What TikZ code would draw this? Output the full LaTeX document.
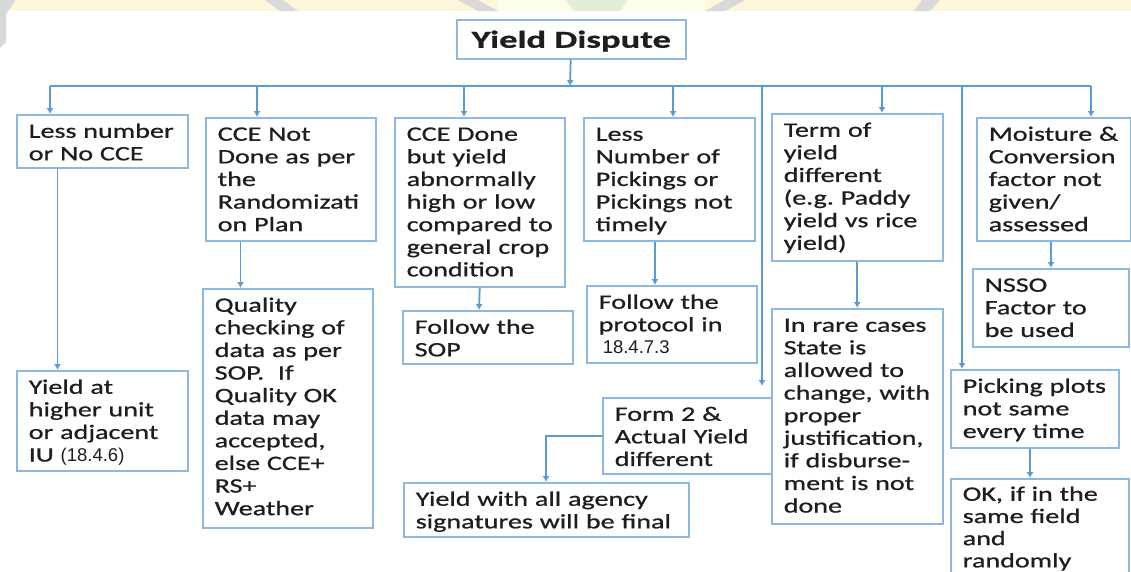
\documentclass[tikz,border=0pt]{standalone}
\usepackage{fontspec}
\setmainfont{Carlito}[FakeStretch=1.37,FakeBold=0.8]
\newfontfamily\numfont{Liberation Sans}
\newfontfamily\headfont{Carlito}[FakeStretch=1.5,FakeBold=0.8]
\usetikzlibrary{arrows.meta}
\definecolor{boxblue}{HTML}{8DB8E2}
\definecolor{linkblue}{HTML}{5B9BD5}
\definecolor{txt}{HTML}{1E1E1E}
\definecolor{bandyellow}{HTML}{FFF7DC}
\definecolor{bandpale}{HTML}{FCFDEB}
\definecolor{bandgreen}{HTML}{E2EFD6}
\definecolor{bandgray}{HTML}{D9D9D9}
\newcommand{\bodysize}{\fontsize{20.5}{22.6}\selectfont}
\newcommand{\num}[1]{{\numfont\fontsize{18.5}{22.6}\selectfont #1}}
\frenchspacing

\begin{document}
\begin{tikzpicture}[x=1pt,y=-1pt]
        \tikzstyle{box}=[draw=boxblue, line width=1.5pt, anchor=north west, inner xsep=12pt, inner ysep=0pt, align=left, text height=23pt, text=txt, font=\bodysize]
        \tikzstyle{arr}=[draw=linkblue, line width=1.8pt, -{Latex[length=6pt,width=7pt]}]

        \useasboundingbox (0,0) rectangle (1131,571);
        \clip (0,0) rectangle (1131,571);
        \fill[white] (0,0) rectangle (1131,571);
        \fill[bandyellow] (0,0) rectangle (1131,11);
        \fill[bandpale] (498,0) rectangle (705,11);
        \fill[bandgreen] (566,0) -- (628,0) -- (620,11) -- (574,11) -- cycle;
        \fill[bandgray] (0,0) -- (16,0) -- (6,14) -- (6,42) -- (0,48) -- cycle;
        \fill[bandgray] (265,0) -- (283,0) -- (298,11) -- (280,11) -- cycle;
        \fill[bandgray] (458,0) -- (478,0) -- (498,11) -- (478,11) -- cycle;
        \fill[bandgray] (725,0) -- (745,0) -- (725,11) -- (705,11) -- cycle;
        \fill[bandgray] (922,0) -- (940,0) -- (930,11) -- (914,11) -- cycle;

        \node[box, text width=205pt, align=center, text height=28pt, text depth=11pt, font=\headfont\bfseries\fontsize{24.4}{28}\selectfont](0) at (456,19){Yield Dispute};

        \node[box, text width=147pt, text depth=30pt](1) at (16,114){Less~number\\or No CCE};
        \node[box, text width=146pt, text depth=100pt](2) at (205,117){CCE Not\\Done~as~per\\the\\Randomizati\\on Plan};
        \node[box, text width=146pt, text depth=146pt](3) at (394,117){CCE Done\\but yield\\abnormally\\high~or~low\\compared~to\\general~crop\\condition};
        \node[box, text width=147pt, text depth=100pt](4) at (583,117){Less\\Number~of\\Pickings~or\\Pickings~not\\timely};
        \node[box, text width=147pt, text depth=124pt](5) at (771,113){Term of\\yield\\different\\(e.g.~Paddy\\yield~vs~rice\\yield)};
        \node[box, text width=130pt, text depth=100pt](6) at (976,117){Moisture~\&\\Conversion\\factor~not\\given/\\assessed};

        \node[box, text width=147pt, text depth=77pt](7) at (16,370){Yield at\\higher~unit\\or~adjacent\\IU \num{(18.4.6)}};
        \node[box, text width=146pt, text depth=216pt](8) at (202,288){Quality\\checking~of\\data~as~per\\SOP.~~If\\Quality~OK\\data~may\\accepted,\\else~CCE+\\RS+\\Weather};
        \node[box, text width=146pt, text depth=30pt](9) at (402,310){Follow~the\\SOP};
        \node[box, text width=146pt, text depth=54pt](10) at (586,285){Follow~the\\protocol~in\\\hspace*{4pt}\num{18.4.7.3}};
        \node[box, text width=147pt, text depth=192pt](11) at (771,308){In~rare~cases\\State is\\allowed~to\\change,~with\\proper\\justification,\\if~disburse-\\ment~is~not\\done};
        \node[box, text width=132pt, text depth=55pt](12) at (972,268){NSSO\\Factor~to\\be~used};
        \node[box, text width=144pt, text depth=55pt](13) at (950,369){Picking~plots\\not~same\\every~time};
        \node[box, text width=154pt, text height=22pt, text depth=150pt, font=\fontsize{20.5}{22.2}\selectfont](14) at (950,478){OK,~if~in~the\\same~field\\and\\randomly};
        \node[box, text width=145pt, text depth=53pt](15) at (602,397){Form~2~\&\\Actual~Yield\\different};
        \node[box, text width=261pt, text depth=31pt](16) at (403,482){Yield~with~all~agency\\signatures~will~be~final};

        \coordinate (j0) at (570,86);
        \coordinate (j1) at (50,86);
        \coordinate (j2) at (257,86);
        \coordinate (j3) at (464,86);
        \coordinate (j4) at (673,86);
        \coordinate (j5) at (882,86);
        \coordinate (j6) at (1091,86);
        \coordinate (j7) at (762,86);
        \coordinate (j8) at (962,86);

        \draw[linkblue, line width=1.8pt] (j1) -- (j6);
        \draw[arr] (0) -- (j0);
        \draw[arr] (j1) -- (j1 |- 1.north);
        \draw[arr] (j2) -- (j2 |- 2.north);
        \draw[arr] (j3) -- (j3 |- 3.north);
        \draw[arr] (j4) -- (j4 |- 4.north);
        \draw[arr] (j5) -- (j5 |- 5.north);
        \draw[arr] (j6) -- (j6 |- 6.north);
        \draw[arr, shorten >=11pt] (j7) -- (j7 |- 15.north);
        \draw[arr] (j8) -- (j8 |- 13.north);

        \draw[arr] ([xshift=41.5pt]1.south west) -- ([xshift=41.5pt]7.north west);
        \draw[arr] ([xshift=35.5pt]2.south west) -- ([xshift=38.5pt]8.north west);
        \draw[arr] (3.south) -- ([xshift=77pt]9.north west);
        \draw[arr] ([xshift=72pt]4.south west) -- ([xshift=69pt]10.north west);
        \draw[arr] (5.south) -- (11.north);
        \draw[arr] ([xshift=75pt]6.south west) -- ([xshift=79pt]12.north west);
        \draw[arr] ([xshift=80pt]13.south west) -- ([xshift=80pt]14.north west);
        \draw[arr] (15.west) -| ([xshift=143pt]16.north west);
    \end{tikzpicture}
\end{document}
